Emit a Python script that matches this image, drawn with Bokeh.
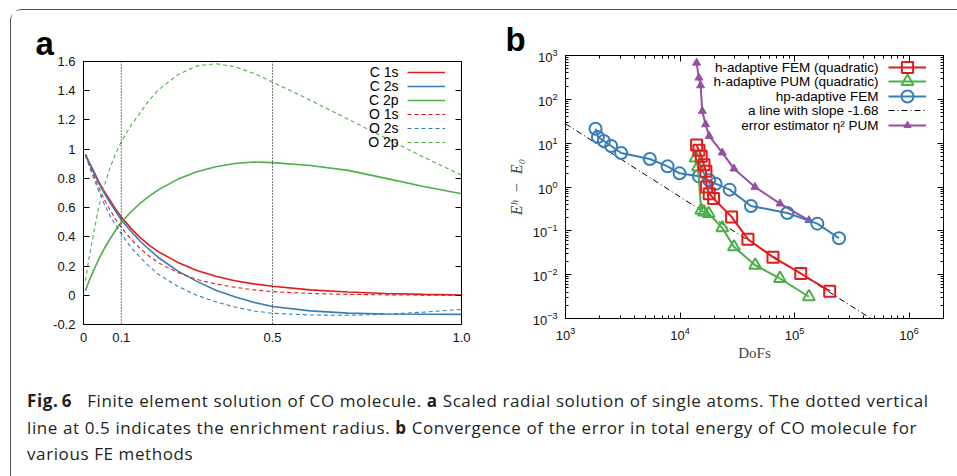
from bokeh.plotting import figure
from bokeh.models import (Range1d, Span, Label, Legend, LegendItem, LinearAxis, LogAxis,
                          FixedTicker, CustomJSTickFormatter, Div, Title)
from bokeh.layouts import column, row
from bokeh.embed import file_html
from bokeh.resources import INLINE

RED = "#e41a1c"
BLUE = "#377eb8"
GREEN = "#4daf4a"
PURPLE = "#984ea3"
SANS = "Liberation Sans"
SERIF = "Liberation Serif"

# ---------------- panel a: scaled radial solutions ----------------
r = [0.005, 0.015, 0.025, 0.04, 0.055, 0.07, 0.085, 0.1, 0.125, 0.15, 0.175, 0.2,
     0.25, 0.3, 0.35, 0.4, 0.45, 0.5, 0.6, 0.7, 0.8, 0.9, 1.0]
c_1s = [0.965, 0.91, 0.86, 0.78, 0.71, 0.65, 0.59, 0.535, 0.46, 0.395, 0.34, 0.295,
        0.225, 0.17, 0.13, 0.10, 0.078, 0.062, 0.037, 0.022, 0.012, 0.006, 0.002]
c_2s = [0.962, 0.905, 0.85, 0.77, 0.70, 0.635, 0.575, 0.515, 0.44, 0.37, 0.31, 0.255,
        0.165, 0.095, 0.035, -0.01, -0.048, -0.077, -0.107, -0.122, -0.128, -0.13, -0.131]
c_2p = [0.03, 0.10, 0.16, 0.245, 0.32, 0.385, 0.445, 0.50, 0.57, 0.63, 0.68, 0.725,
        0.795, 0.845, 0.88, 0.902, 0.912, 0.908, 0.888, 0.855, 0.80, 0.745, 0.695]
o_1s = [0.96, 0.895, 0.83, 0.74, 0.655, 0.585, 0.52, 0.465, 0.385, 0.32, 0.265, 0.22,
        0.155, 0.108, 0.077, 0.055, 0.037, 0.025, 0.012, 0.006, 0.003, 0.001, 0.0]
o_2s = [0.958, 0.885, 0.815, 0.715, 0.625, 0.545, 0.48, 0.42, 0.33, 0.26, 0.195, 0.14,
        0.06, 0.0, -0.045, -0.08, -0.107, -0.123, -0.135, -0.137, -0.13, -0.115, -0.097]
o_2p = [0.10, 0.26, 0.40, 0.60, 0.75, 0.87, 0.97, 1.05, 1.16, 1.25, 1.34, 1.41,
        1.51, 1.57, 1.585, 1.565, 1.52, 1.46, 1.335, 1.205, 1.075, 0.945, 0.822]
a_names = ["C 1s", "C 2s", "C 2p", "O 1s", "O 2s", "O 2p"]
enrich_lines = [0.1, 0.5]
a_xticks = [0, 0.1, 0.5, 1.0]
a_yticks = [-0.2, 0, 0.2, 0.4, 0.6, 0.8, 1.0, 1.2, 1.4, 1.6]

# ---------------- panel b: convergence ----------------
h_fem_dofs = [13960, 14620, 15340, 16190, 16840, 17070, 17990, 19640, 28230, 39190, 64850, 113300, 202800]
h_fem_err = [9.06, 6.85, 5.0, 3.23, 2.28, 1.0, 0.706, 0.543, 0.208, 0.0644, 0.0251, 0.01064, 0.00421]
h_pum_dofs = [13680, 14330, 15340, 16190, 17780, 23400, 29580, 45390, 74650, 133600]
h_pum_err = [4.59, 2.86, 0.294, 0.270, 0.247, 0.117, 0.0431, 0.0164, 0.00818, 0.00313]
hp_fem_dofs = [1829, 1919, 2163, 2505, 3063, 5453, 7786, 9909, 14620, 17990, 20450, 27110, 41660, 86540, 158200, 244700]
hp_fem_err = [21.4, 13.8, 11.2, 8.6, 5.96, 4.35, 2.96, 2.05, 1.75, 1.42, 1.19, 0.871, 0.370, 0.256, 0.146, 0.0678]
est_dofs = [13960, 14620, 15130, 15650, 16710, 17990, 23400, 29580, 45180, 74650, 133600]
est_err = [680, 310, 207, 54, 26.8, 14.5, 6.07, 2.62, 1.0, 0.418, 0.174]
slope_dofs = [1000, 463000]
slope_err = [27.7, 0.001]
b_names = ["h-adaptive FEM (quadratic)", "h-adaptive PUM (quadratic)", "hp-adaptive FEM",
           "a line with slope -1.68", "error estimator \u03b7\u00b2 PUM"]
b_decades_x = [1e3, 1e4, 1e5, 1e6]
b_decades_y = [1e-3, 1e-2, 1e-1, 1e0, 1e1, 1e2, 1e3]


def style_axis(ax, tick_in=6, minor_in=0):
    ax.major_tick_in = tick_in
    ax.major_tick_out = 0
    ax.minor_tick_in = minor_in
    ax.minor_tick_out = 0
    ax.axis_line_color = "black"
    ax.major_tick_line_color = "black"
    ax.minor_tick_line_color = "black"
    ax.major_label_text_font = SANS
    ax.major_label_text_font_size = "13px"
    ax.major_label_text_color = "#111111"
    ax.major_label_standoff = 8


def mirror(ax):
    ax.formatter = CustomJSTickFormatter(code="return '';")
    ax.major_label_text_color = None
    ax.major_label_standoff = 0


def legend_row(renderers, x, y, gh):
    # single-entry legend; glyph drawn to the right of the (separately drawn) text
    return Legend(items=[LegendItem(label=" ", renderers=renderers)], location=(x, y),
                  glyph_width=38, glyph_height=gh, label_height=gh, label_width=0,
                  label_standoff=0, padding=0, spacing=0, margin=0,
                  border_line_alpha=0, background_fill_alpha=0,
                  label_text_font_size="13px", label_text_alpha=0)


# ===== figure a =====
pa = figure(width=469, height=360, x_range=Range1d(0, 1), y_range=Range1d(-0.2, 1.6),
            output_backend="svg", toolbar_location=None, frame_align=False,
            min_border_left=72, min_border_right=19, min_border_top=51, min_border_bottom=46)
pa.grid.visible = False
pa.outline_line_color = "black"
pa.outline_line_alpha = 1
pa.title = Title(text="a", align="left", offset=-48, standoff=0, vertical_align="bottom",
                 text_font=SANS, text_font_style="bold", text_font_size="33px",
                 text_color="black")

style_axis(pa.xaxis[0], tick_in=0)
pa.xaxis[0].ticker = FixedTicker(ticks=a_xticks, minor_ticks=[])
pa.xaxis[0].formatter = CustomJSTickFormatter(code="return tick == 0 ? '0' : tick.toFixed(1);")
style_axis(pa.yaxis[0])
pa.yaxis[0].ticker = FixedTicker(ticks=a_yticks, minor_ticks=[])
pa.yaxis[0].formatter = CustomJSTickFormatter(code="return (Math.round(tick*10)/10).toString();")

ra = LinearAxis(ticker=FixedTicker(ticks=a_yticks, minor_ticks=[]))
style_axis(ra)
mirror(ra)
pa.add_layout(ra, "right")

for xv in enrich_lines:
    pa.add_layout(Span(location=xv, dimension="height", line_color="black",
                       line_dash="1 2", line_width=1))

series_a = [(c_1s, RED, "solid", 1.6), (c_2s, BLUE, "solid", 1.6), (c_2p, GREEN, "solid", 1.6),
            (o_1s, RED, "4 3", 1.1), (o_2s, BLUE, "4 3", 1.1), (o_2p, GREEN, "4 3", 1.1)]
rend_a = []
for (ys, col, dash, lw) in series_a:
    rend_a.append(pa.line(r, ys, line_color=col, line_dash=dash, line_width=lw))

for i, (name, rr) in enumerate(zip(a_names, rend_a)):
    pa.add_layout(legend_row([rr], 324, 245.5 - 14 * i, 14))
    pa.add_layout(Label(x=315, y=253 - 14 * i, x_units="screen", y_units="screen", text=name,
                        text_align="right", text_baseline="middle", text_font=SANS,
                        text_font_size="14px", text_color="black"))

# ===== figure b =====
pb = figure(width=468, height=360, x_axis_type="log", y_axis_type="log",
            x_range=Range1d(1e3, 2e6), y_range=Range1d(1e-3, 1e3),
            output_backend="svg", toolbar_location=None, frame_align=False,
            min_border_left=85, min_border_right=5, min_border_top=45, min_border_bottom=52)
pb.grid.visible = False
pb.outline_line_color = "black"
pb.outline_line_alpha = 1
pb.title = Title(text="b", align="left", offset=-60, standoff=-5, vertical_align="bottom",
                 text_font=SANS, text_font_style="bold", text_font_size="33px",
                 text_color="black")

minor_x = [m * d for d in [1e3, 1e4, 1e5, 1e6] for m in range(2, 10)]
minor_y = [m * d for d in [1e-3, 1e-2, 1e-1, 1e0, 1e1, 1e2] for m in range(2, 10)]

style_axis(pb.xaxis[0], minor_in=3)
pb.xaxis[0].ticker = FixedTicker(ticks=b_decades_x, minor_ticks=minor_x)
pb.xaxis[0].axis_label = "DoFs"
pb.xaxis[0].axis_label_text_font = SERIF
pb.xaxis[0].axis_label_text_font_style = "normal"
pb.xaxis[0].axis_label_text_font_size = "15px"
pb.xaxis[0].axis_label_standoff = 2
style_axis(pb.yaxis[0], minor_in=3)
pb.yaxis[0].ticker = FixedTicker(ticks=b_decades_y, minor_ticks=minor_y)
pb.yaxis[0].axis_label = "E\u02b0\u2002\u2212\u2002E\u2080"
pb.yaxis[0].axis_label_text_font = SERIF
pb.yaxis[0].axis_label_text_font_style = "italic"
pb.yaxis[0].axis_label_text_font_size = "16px"
pb.yaxis[0].axis_label_standoff = 5

tb = LogAxis(ticker=FixedTicker(ticks=b_decades_x, minor_ticks=minor_x))
style_axis(tb, minor_in=3)
mirror(tb)
pb.add_layout(tb, "above")
rb = LogAxis(ticker=FixedTicker(ticks=b_decades_y, minor_ticks=minor_y))
style_axis(rb, minor_in=3)
mirror(rb)
pb.add_layout(rb, "right")

sl = pb.line(slope_dofs, slope_err, line_color="black", line_dash="6 3 1 3", line_width=1)
l_est = pb.line(est_dofs, est_err, line_color=PURPLE, line_width=2)
m_est = pb.scatter(est_dofs, est_err, marker="triangle", size=8, fill_color=PURPLE,
                   line_color=PURPLE, line_width=1)
l_hp = pb.line(hp_fem_dofs, hp_fem_err, line_color=BLUE, line_width=2)
m_hp = pb.scatter(hp_fem_dofs, hp_fem_err, marker="circle", size=12, fill_color=None,
                  line_color=BLUE, line_width=2)
l_pum = pb.line(h_pum_dofs, h_pum_err, line_color=GREEN, line_width=2)
m_pum = pb.scatter(h_pum_dofs, h_pum_err, marker="triangle", size=12, fill_color=None,
                   line_color=GREEN, line_width=2)
l_fem = pb.line(h_fem_dofs, h_fem_err, line_color=RED, line_width=2)
m_fem = pb.scatter(h_fem_dofs, h_fem_err, marker="square", size=11, fill_color=None,
                   line_color=RED, line_width=2)

b_label_y = [250.7, 236.7, 222.3, 208, 192.7]
b_rends = [[l_fem, m_fem], [l_pum, m_pum], [l_hp, m_hp], [sl], [l_est, m_est]]
b_gh = [28, 30, 30, 14, 18]
for name, yy, rends, gh in zip(b_names, b_label_y, b_rends, b_gh):
    pb.add_layout(legend_row(rends, 323, yy - gh / 2.0, gh))
    pb.add_layout(Label(x=313, y=yy, x_units="screen", y_units="screen", text=name,
                        text_align="right", text_baseline="middle", text_font=SANS,
                        text_font_size="13.5px", text_color="black"))

# ===== caption =====
cap_html = (
    '<div style="font-family:\'Open Sans\'; font-size:17px; letter-spacing:0.6px; '
    'line-height:26.5px; color:#231f20; white-space:nowrap; padding-left:11px; padding-top:13px;">'
    '<b>Fig.&thinsp;6</b>&nbsp;&nbsp; Finite element solution of CO molecule. <b>a</b> Scaled radial '
    'solution of single atoms. The dotted vertical<br>'
    'line at 0.5 indicates the enrichment radius. <b>b</b> Convergence of the error in total '
    'energy of CO molecule for<br>'
    'various FE methods</div>'
)
cap = Div(text=cap_html, width=937, height=96)

layout = column(row(pa, pb), cap,
                styles={"border-left": "1px solid #555555", "border-top": "1px solid #555555",
                        "border-top-left-radius": "12px", "margin-left": "10px",
                        "margin-top": "9px"})

open("out.html", "w").write(file_html(layout, INLINE))
